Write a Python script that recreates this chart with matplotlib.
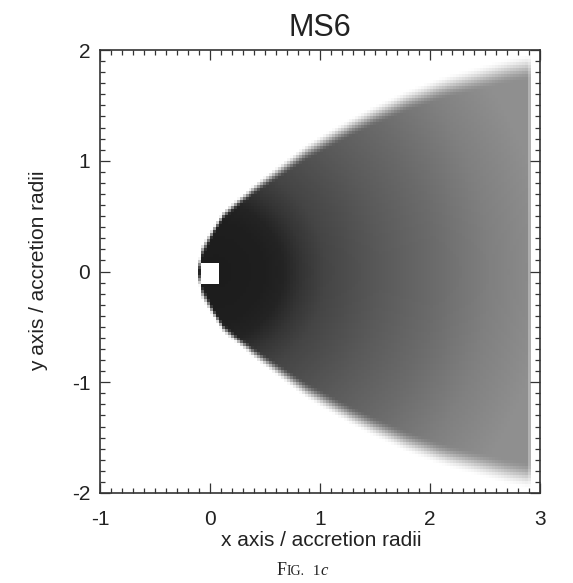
import numpy as np
import matplotlib
matplotlib.use("Agg")
import matplotlib.pyplot as plt
from matplotlib.ticker import MultipleLocator

# Bow-shock outline: downstream distance and half-width of the shocked wake
shock_x = [-0.11, -0.07, 0.03, 0.12, 0.27, 0.43, 0.64, 0.88, 1.18, 1.48, 1.79, 2.09, 2.39, 2.70, 2.91]
shock_half_width = [0.0, 0.19, 0.37, 0.51, 0.64, 0.76, 0.91, 1.08, 1.25, 1.40, 1.54, 1.65, 1.73, 1.81, 1.85]

# Grey level (0 = black, 1 = white) versus distance from the accretor
core_r = [0.0, 0.45, 0.62, 0.80, 1.0, 1.5, 2.0, 2.5, 3.0]
core_grey = [0.11, 0.12, 0.14, 0.21, 0.27, 0.35, 0.42, 0.50, 0.56]

# Softness of the shock front along the wake
edge_x = [-0.10, 0.30, 1.00, 2.00, 2.90]
edge_width = [0.03, 0.07, 0.14, 0.20, 0.24]

x_end = 2.91                  # downstream end of the computational grid
hole_x = (-0.075, 0.09)       # accretor hole, x extent
hole_y = (-0.12, 0.08)        # accretor hole, y extent
cell = 0.027                  # grid spacing

x_ticks = [-1, 0, 1, 2, 3]
y_ticks = [-2, -1, 0, 1, 2]

# ---- build the density image on the simulation grid ----
xe = np.arange(-1.0, 3.0 + cell, cell)
ye = np.arange(-2.0, 2.0 + cell, cell)
xc = 0.5 * (xe[:-1] + xe[1:])
yc = 0.5 * (ye[:-1] + ye[1:])
X, Y = np.meshgrid(xc, yc)

sx = np.array(shock_x)
shw = np.array(shock_half_width)
slope = np.gradient(shw, sx)
hw = np.interp(X, sx, shw, left=-1.0, right=shw[-1])
sl = np.interp(X, sx, slope)
dist = (hw - np.abs(Y)) / np.sqrt(1.0 + sl ** 2)
dist = np.where(X < sx[0], -1.0, dist)
width = np.interp(X, edge_x, edge_width)
t = np.clip(0.5 + dist / width, 0.0, 1.0)
s = t * t * (3.0 - 2.0 * t)

# the last grid column is slightly lighter
s = s * np.where(X > x_end - cell, 0.7, 1.0)

rho = np.hypot(X - 0.05, Y)
base = np.interp(rho, core_r, core_grey)
grey = 1.0 - s * (1.0 - base)
grey[X > x_end] = 1.0
hole = ((X >= hole_x[0]) & (X <= hole_x[1]) &
        (Y >= hole_y[0]) & (Y <= hole_y[1]))
grey[hole] = 1.0

# ---- figure ----
W, H, DPI = 573, 583, 100
fig = plt.figure(figsize=(W / DPI, H / DPI), dpi=DPI)
fig.patch.set_facecolor("white")
ax = fig.add_axes([100 / W, 1 - 493 / H, 440 / W, 443 / H])

ax.pcolormesh(xe, ye, grey, cmap="gray", vmin=0, vmax=1, shading="flat",
              rasterized=True)
ax.set_xlim(-1, 3)
ax.set_ylim(-2, 2)

ink = "#222222"
font = "Liberation Sans"
for sp in ax.spines.values():
    sp.set_color("#333333")
    sp.set_linewidth(1.2)

ax.set_xticks(x_ticks)
ax.set_yticks(y_ticks)
ax.set_xticklabels([str(v) for v in x_ticks])
ax.set_yticklabels([str(v) for v in y_ticks])
ax.xaxis.set_minor_locator(MultipleLocator(0.1))
ax.yaxis.set_minor_locator(MultipleLocator(0.1))
ax.tick_params(which="both", direction="in", top=True, right=True,
               color="#333333", width=0.9)
ax.tick_params(which="major", length=7)
ax.tick_params(which="minor", length=3.5)
ax.tick_params(axis="x", which="major", pad=12, labelsize=15, labelcolor=ink)
ax.tick_params(axis="y", which="major", pad=7, labelsize=15, labelcolor=ink)
for lab in ax.get_xticklabels() + ax.get_yticklabels():
    lab.set_fontfamily(font)

fig.text(320 / W, 1 - 28 / H, "MS6", ha="center", va="center",
         fontsize=22, family=font, color=ink)
fig.text(321 / W, 1 - 541 / H, "x axis / accretion radii", ha="center",
         va="center", fontsize=15, family=font, color=ink)
fig.text(39 / W, 1 - 271 / H, "y axis / accretion radii", ha="center",
         va="center", rotation=90, fontsize=15, family=font, color=ink)

# Caption set in small capitals: "FIG. 1c"
serif = "Liberation Serif"
fig.canvas.draw()
renderer = fig.canvas.get_renderer()
pieces = [("F", 13, "normal"), ("IG.", 10, "normal"), ("  1", 11, "normal"),
          ("c", 12, "italic")]
texts = []
for txt, size, style in pieces:
    texts.append(fig.text(0, 1 - 575 / H, txt, fontsize=size, family=serif,
                          style=style, color=ink, ha="left", va="baseline"))
widths = [tx.get_window_extent(renderer).width for tx in texts]
x0 = 302 - sum(widths) / 2
for tx, w in zip(texts, widths):
    tx.set_x(x0 / W)
    x0 += w

fig.savefig("out.png", dpi=DPI, facecolor="white")
